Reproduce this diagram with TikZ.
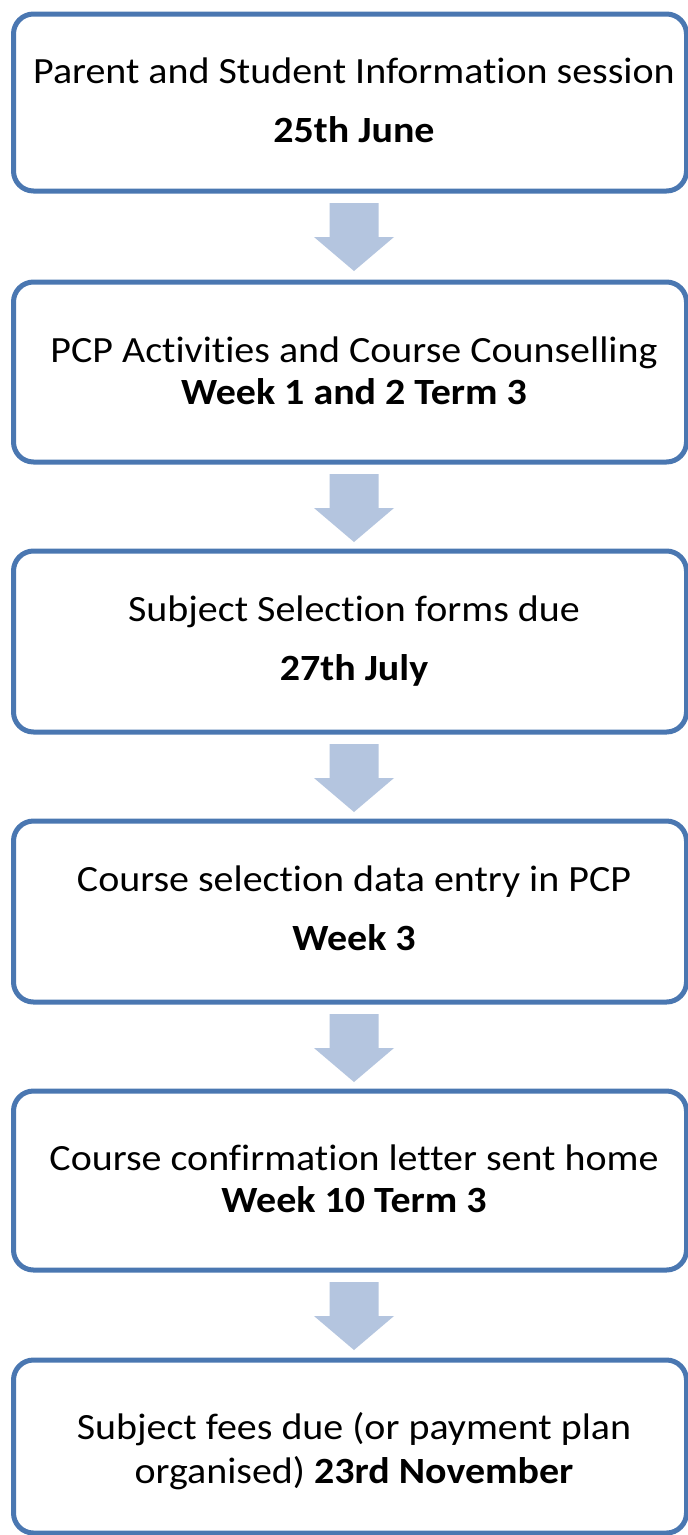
\documentclass[tikz,border=0pt]{standalone}
\usepackage{fontspec}
\setmainfont{Carlito}[FakeStretch=1.08, RawFeature=-liga]
\usetikzlibrary{calc}
\definecolor{boxblue}{HTML}{4A77B1}
\definecolor{arrowblue}{HTML}{B4C5DF}
\tikzset{
  stepbox/.style={draw=boxblue, line width=5pt, rounded corners=20pt, fill=white,
    minimum width=673pt, inner sep=0pt, outer sep=0pt},
  txt/.style={anchor=base, inner sep=0pt, font=\fontsize{37}{44}\selectfont},
  bigarrow/.style={fill=arrowblue, draw=none}
}
\newcommand{\flowarrow}[1]{%
  \fill[bigarrow] ($(#1.south)+(4pt,-12pt)$) ++(-24.5pt,0pt) -- ++(49pt,0pt) -- ++(0pt,-34pt)
    -- ++(15.5pt,0pt) -- ++(-40pt,-34pt) -- ++(-40pt,34pt) -- ++(15.5pt,0pt) -- cycle;}
\begin{document}
\begin{tikzpicture}[x=1pt,y=-1pt]
\useasboundingbox (0,0) rectangle (688,1535);
\fill[white] (0,0) rectangle (688,1535);
% boxes
\node[stepbox, minimum height=177pt] (b1) at (350,102.5) {};
\node[stepbox, minimum height=180pt] (b2) at (350,372) {};
\node[stepbox, minimum height=181pt] (b3) at (350,641.5) {};
\node[stepbox, minimum height=181pt] (b4) at (350,911.5) {};
\node[stepbox, minimum height=179pt] (b5) at (350,1180.5) {};
\node[stepbox, minimum height=173pt] (b6) at (350,1446.5) {};
% arrows
\flowarrow{b1}
\flowarrow{b2}
\flowarrow{b3}
\flowarrow{b4}
\flowarrow{b5}
% texts
\node[txt] (t1) at (354,83) {Parent and Student Information session};
\node[txt] (d1) at (354,142) {\textbf{25th June}};
\node[txt] (t2) at (354,362) {PCP Activities and Course Counselling};
\node[txt] (d2) at (354,404) {\textbf{Week 1 and 2 Term 3}};
\node[txt] (t3) at (354,621) {Subject Selection forms due};
\node[txt] (d3) at (354,680) {\textbf{27th July}};
\node[txt] (t4) at (354,891) {Course selection data entry in PCP};
\node[txt] (d4) at (354,950) {\textbf{Week 3}};
\node[txt] (t5) at (354,1170) {Course confirmation letter sent home};
\node[txt] (d5) at (354,1212) {\textbf{Week 10 Term 3}};
\node[txt] (t6) at (354,1439) {Subject fees due (or payment plan};
\node[txt] (d6) at (354,1483) {organised) \textbf{23rd November}};
\end{tikzpicture}
\end{document}
